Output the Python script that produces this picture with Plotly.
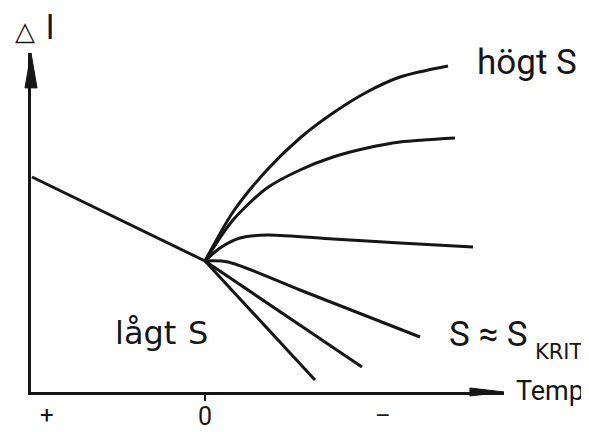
import plotly.graph_objects as go

# Temp (+ to the left, - to the right) and elongation
warm_temp = [17.3, 0.0]
warm_dl = [21.5, 13.1]

high_temp = [0, -2.8, -6.2, -9.5, -12.8, -16.2, -19.5, -24.3]
high_dl = [13.1, 18.0, 22.2, 25.4, 27.9, 30.0, 31.5, 32.6]

mid_high_temp = [0, -2.8, -6.2, -9.5, -12.8, -16.2, -19.5, -25.0]
mid_high_dl = [13.1, 17.2, 20.4, 22.2, 23.5, 24.4, 25.0, 25.4]

mid_temp = [0, -1.5, -3.5, -6.2, -12.8, -19.5, -26.8]
mid_dl = [13.1, 14.4, 15.4, 15.7, 15.3, 14.9, 14.5]

krit_temp = [0, -2.3, -9.5, -21.5]
krit_dl = [13.1, 13.0, 10.2, 5.5]

low1_temp = [0, -15.7]
low1_dl = [13.1, 2.5]

low2_temp = [0, -11.0]
low2_dl = [13.1, 1.2]

x_range = [17.4, -29.9]
y_range = [0, 33.9]

INK = "#161616"
FONT = "Roboto, DejaVu Sans, sans-serif"
WIDE = "DejaVu Sans, sans-serif"

fig = go.Figure()
curves = [
    (warm_temp, warm_dl, "linear"),
    (high_temp, high_dl, "spline"),
    (mid_high_temp, mid_high_dl, "spline"),
    (mid_temp, mid_dl, "spline"),
    (krit_temp, krit_dl, "spline"),
    (low1_temp, low1_dl, "linear"),
    (low2_temp, low2_dl, "linear"),
]
for xs, ys, shape in curves:
    fig.add_trace(go.Scatter(x=xs, y=ys, mode="lines",
                             line=dict(color=INK, width=3, shape=shape, smoothing=0.8),
                             showlegend=False, hoverinfo="skip"))

# reference plot area in pixels: left 31, right 504, top 53, bottom 392
def pp(px, py):
    return (px - 31) / 473, (392 - py) / 339

def label(text, px, py, size, fam=FONT):
    x, y = pp(px, py)
    fig.add_annotation(x=x, y=y, xref="paper", yref="paper", text=text,
                       showarrow=False, xanchor="center", yanchor="middle",
                       font=dict(family=fam, size=size, color=INK))

label("△", 25, 31, 26, WIDE)
label("l", 50, 27, 34)
label("högt S", 527, 62, 35)
label("lågt", 145, 333, 32, WIDE)
label("S", 198, 333, 32, WIDE)
label("S ≈ S", 488, 334, 35)
label("KRIT", 559, 352, 21, WIDE)
label("Temp", 550, 391, 27)
label("+", 47, 415, 24)
label("–", 383, 416, 24)

# arrow heads on the axes
fig.add_shape(type="path", xref="paper", yref="paper",
              path="M 0.928,0.0118 L 1.0,0 L 0.928,-0.0118 Z",
              fillcolor=INK, line=dict(color=INK, width=1))
fig.add_shape(type="path", xref="paper", yref="paper",
              path="M -0.0127,0.897 L 0,1.0 L 0.0127,0.897 Z",
              fillcolor=INK, line=dict(color=INK, width=1))

# the page adds an 8px body margin, so the margins are 8px smaller here
fig.update_layout(
    width=589, height=432,
    margin=dict(l=23, r=93, t=45, b=48),
    paper_bgcolor="white", plot_bgcolor="white",
    font=dict(family=FONT, color=INK),
    xaxis=dict(range=x_range, showgrid=False, zeroline=False, automargin=False,
               showline=True, linewidth=3, linecolor=INK,
               tickvals=[0], ticktext=["0"], ticks="outside", ticklen=6,
               tickwidth=2, tickcolor=INK, ticklabelstandoff=-6,
               tickfont=dict(size=25, family=FONT)),
    yaxis=dict(range=y_range, showgrid=False, zeroline=False, automargin=False,
               showline=True, linewidth=3, linecolor=INK,
               showticklabels=False, ticks=""),
)

fig.write_html("out.html")
